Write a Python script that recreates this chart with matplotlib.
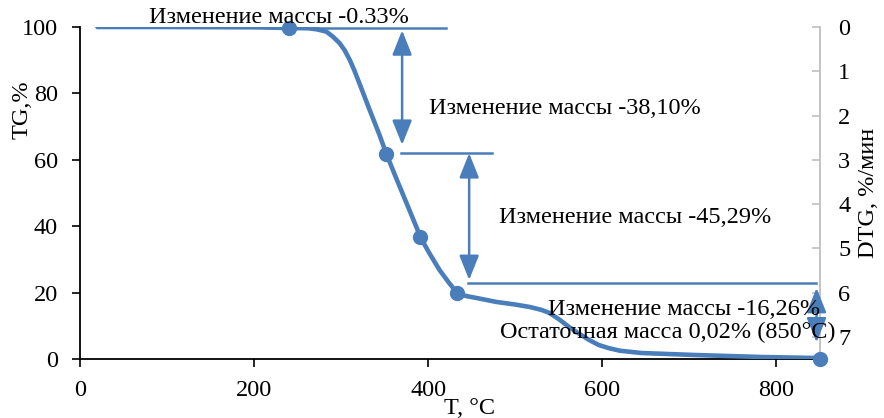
import matplotlib
matplotlib.use("Agg")
import matplotlib.pyplot as plt

plt.rcParams['font.family'] = ['Liberation Serif', 'DejaVu Serif']

# TG curve, T in C, mass in %
temp = [20, 100, 200, 240, 255, 263, 272, 283, 290, 298, 304, 310, 315, 321, 332,
        344, 352, 363, 375, 386, 391, 401, 413, 424, 433, 443, 455, 478, 500,
        516, 530, 539, 550, 562, 574, 585, 596, 607, 620, 645, 707, 783, 846, 850]
tg = [100, 100, 99.9, 99.7, 99.65, 99.6, 99.3, 98.6, 97.2, 95.2, 93.0, 90.0, 87.0,
      83.0, 75.5, 67.5, 61.7, 54.6, 47.0, 40.0, 36.7, 32.0, 26.8, 22.9, 20.0,
      19.0, 18.4, 17.2, 16.4, 15.7, 14.8, 13.9, 12.0, 9.6, 7.5, 5.7, 4.2, 3.3,
      2.5, 1.8, 1.2, 0.6, 0.3, 0.02]

# stage boundaries
mark_t = [240, 352, 391, 433, 850]
mark_tg = [99.7, 61.7, 36.7, 20.0, 0.02]

# horizontal guide lines: level, start T, end T
guide_y = [99.67, 62.0, 22.9]
guide_x0 = [240, 369, 446]
guide_x1 = [420, 473, 845]

# double arrows: T, low end, high end
arrow_x = [370, 447, 846]
arrow_lo = [64.5, 23.8, 5.0]
arrow_hi = [99.0, 62.0, 21.4]

labels = ["Изменение массы -0.33%", "Изменение массы -38,10%",
          "Изменение массы -45,29%", "Изменение массы -16,26%",
          "Остаточная масса 0,02% (850°C)"]
label_x = [229, 401, 638, 850, 482]
label_y = [103, 75.6, 42.5, 14.8, 8.1]
label_ha = ["center", "left", "center", "right", "left"]

blue = "#4a7ebb"
fs = 17.5

fig = plt.figure(figsize=(8.84, 4.18), dpi=100)
ax = fig.add_axes([80 / 884, 1 - 359 / 418, 740 / 884, 332 / 418])

ax.plot(temp, tg, color=blue, lw=3.3, solid_capstyle="round",
        solid_joinstyle="round", zorder=3)
ax.plot(mark_t, mark_tg, "o", color=blue, ms=10, zorder=4, clip_on=False)

for y, x0, x1 in zip(guide_y, guide_x0, guide_x1):
    ax.plot([x0, x1], [y, y], color=blue, lw=1.8, zorder=2, clip_on=False)

for x, lo, hi in zip(arrow_x, arrow_lo, arrow_hi):
    ax.annotate("", xy=(x, lo), xytext=(x, hi),
                arrowprops=dict(arrowstyle="<|-|>,head_length=0.75,head_width=0.3",
                                color=blue, lw=1.8, mutation_scale=20,
                                shrinkA=0, shrinkB=0), zorder=2)

for s, x, y, ha in zip(labels, label_x, label_y, label_ha):
    ax.text(x, y, s, ha=ha, va="center", fontsize=fs, zorder=5, clip_on=False)

ax.set_xlim(0, 850)
ax.set_ylim(0, 100)
ax.set_xticks([0, 200, 400, 600, 800])
ax.set_yticks([0, 20, 40, 60, 80, 100])
ax.tick_params(axis="both", labelsize=fs, direction="out", length=6, width=1.2)
ax.tick_params(axis="x", pad=9)
ax.tick_params(axis="y", pad=10)
for side in ["top", "right"]:
    ax.spines[side].set_visible(False)
for side in ["left", "bottom"]:
    ax.spines[side].set_linewidth(1.3)

ax.set_ylabel("TG,%", fontsize=fs, va="center", ha="center")
ax.yaxis.set_label_coords(-0.078, 0.75)
ax.set_xlabel("T, °C", fontsize=fs, va="center")
ax.xaxis.set_label_coords(0.527, -0.148)

# DTG axis on the right, inverted
ax2 = ax.twinx()
ax2.set_ylim(7.5, 0)
ax2.set_yticks(range(8))
for side in ["top", "left", "bottom"]:
    ax2.spines[side].set_visible(False)
ax2.spines["right"].set_color("#bfbfbf")
ax2.spines["right"].set_linewidth(1.3)
ax2.tick_params(axis="y", labelsize=fs, direction="in", length=6, width=1.2,
                color="#bfbfbf", pad=13)
ax2.set_ylabel("DTG, %/мин", fontsize=fs, rotation=90, va="center", ha="center")
ax2.yaxis.set_label_coords(1.065, 0.5)
ax.set_zorder(ax2.get_zorder() + 1)
ax.patch.set_visible(False)

fig.savefig("out.png", dpi=100)
